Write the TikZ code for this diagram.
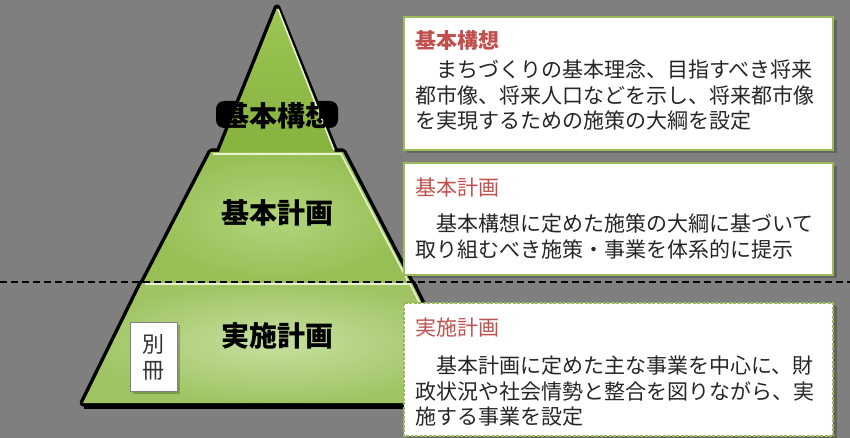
\documentclass[tikz,border=0pt]{standalone}
\usepackage{fontspec}
\setmainfont{Noto Sans CJK JP}
\definecolor{cbg}{HTML}{7F7F7F}
\definecolor{cframe}{HTML}{9BBB59}
\definecolor{cred}{HTML}{C0504D}
\definecolor{clite}{HTML}{E6F3CC}
\definecolor{ctopA}{HTML}{9DC655}
\definecolor{ctopB}{HTML}{86B23E}
\definecolor{cmidA}{HTML}{B2D47C}
\definecolor{cmidB}{HTML}{97BF55}
\definecolor{cbotA}{HTML}{C6E0A0}
\definecolor{cbotB}{HTML}{A0C463}
\tikzset{
  every picture/.style={x=1pt, y=-1pt},
  tierline/.style={draw=black, line width=7pt, line join=round},
  hilite/.style={draw=clite, line width=1.6pt},
  infobox/.style={draw=cframe, fill=white, line width=2pt},
  boxsolid/.style={infobox},
  boxdash/.style={infobox, dash pattern=on 3pt off 1.5pt},
  boxshadow/.style={fill=black, opacity=0.22},
  head/.style={anchor=base west, inner sep=0pt, text=cred, font=\fontsize{21}{25}\selectfont},
  body/.style={anchor=north west, inner sep=0pt, align=left, text=black!85, font=\fontsize{21}{25.4}\selectfont},
  tierlabel/.style={inner sep=0pt, font=\fontsize{28}{30}\selectfont\bfseries},
}
\begin{document}
\begin{tikzpicture}
  \fill[cbg] (0,0) rectangle (850,438);
  \useasboundingbox (0,0) rectangle (850,438);
  % pyramid
  \fill[black, rounded corners=8pt] (216,101) rectangle (338,128);
  \foreach \p in {{(277,8) -- (219,152) -- (335,152) -- cycle},
                  {(211,152) -- (143,283) -- (411,283) -- (343,152) -- cycle},
                  {(142,283) -- (83,403) -- (471,403) -- (412,283) -- cycle}}
    { \draw[tierline] \p; }
  \draw[black, line width=6pt] (84,406) -- (471,406);
  \path[top color=ctopA, bottom color=ctopB] (277,8) -- (219,152) -- (335,152) -- cycle;
  \path[inner color=cmidA, outer color=cmidB] (211,152) -- (143,283) -- (411,283) -- (343,152) -- cycle;
  \path[inner color=cbotA, outer color=cbotB] (142,283) -- (83,403) -- (471,403) -- (412,283) -- cycle;
  \draw[hilite] (278,9) -- (334,150);
  \draw[hilite] (213,154) -- (341,154) -- (408,281);
  \draw[hilite] (145,284) -- (410,284) -- (470,402);
  \node[tierlabel] (plan1) at (277,116) {基本構想};
  \node[tierlabel] (plan2) at (277,213) {基本計画};
  \node[tierlabel] (plan3) at (277,336) {実施計画};
  % separate volume tag
  \fill[boxshadow] (133,325) rectangle (180,394);
  \node[draw=gray, fill=white, line width=0.6pt, minimum width=47pt, minimum height=69pt, inner sep=0pt,
        align=center, text=black!80, font=\fontsize{22}{26}\selectfont] (bessatsu) at (153.5,357) {別\\冊};
  % dividing line
  \draw[black, line width=1.3pt, dash pattern=on 7pt off 4pt] (0,282) -- (850,282);
  % explanation boxes
  \foreach \n/\ya/\yb/\st/\hy/\by/\hd/\bd in {
      1/17/150/boxsolid/48.5/60/{\bfseries 基本構想}/{　まちづくりの基本理念、目指すべき将来\\都市像、将来人口などを示し、将来都市像\\を実現するための施策の大綱を設定},
      2/163/275/boxsolid/196/214/{基本計画}/{　基本構想に定めた施策の大綱に基づいて\\取り組むべき施策・事業を体系的に提示},
      3/303/436/boxdash/335/356/{実施計画}/{　基本計画に定めた主な事業を中心に、財\\政状況や社会情勢と整合を図りながら、実\\施する事業を設定}}
    { \fill[boxshadow] (407,\ya+3) rectangle (837,\yb+3);
      \draw[\st] (404,\ya) rectangle (833,\yb);
      \node[head] (head\n) at (415,\hy) {\hd};
      \node[body] (text\n) at (415,\by) {\bd}; }
\end{tikzpicture}
\end{document}
